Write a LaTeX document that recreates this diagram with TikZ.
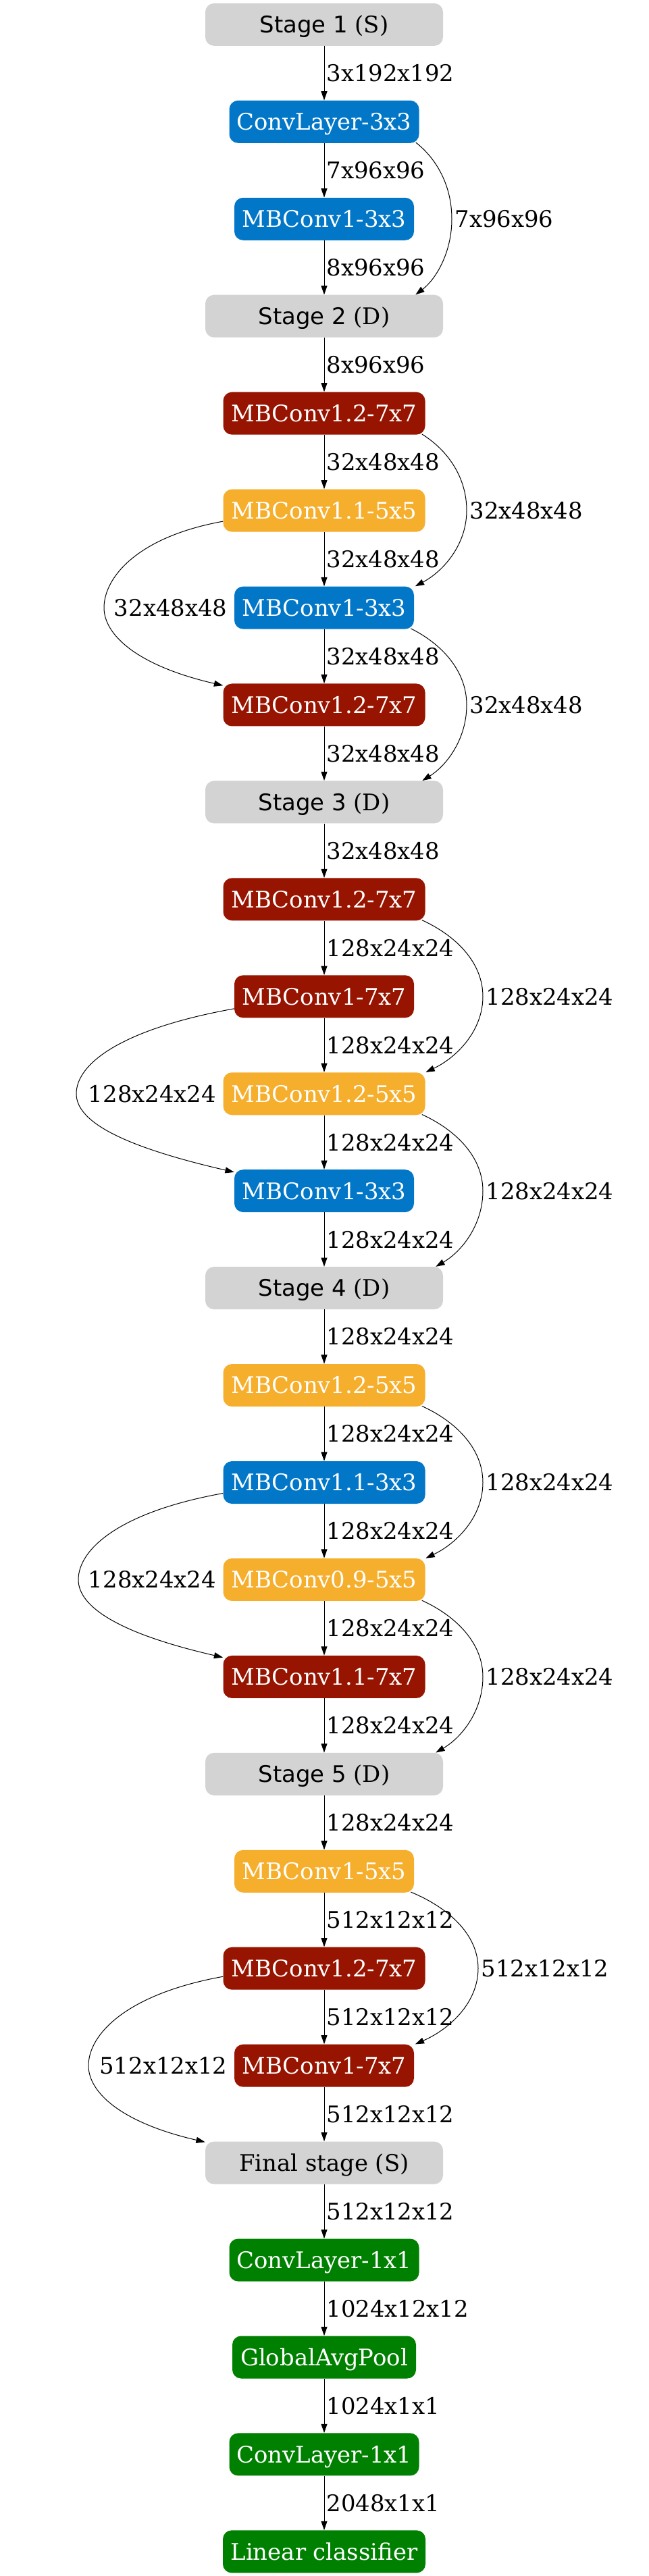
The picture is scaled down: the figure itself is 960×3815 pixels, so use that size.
\documentclass[tikz,border=0pt]{standalone}
\usepackage{fontspec}
\setmainfont{DejaVu Serif}
\newfontfamily\stagesans{DejaVu Sans}
\usetikzlibrary{arrows.meta,calc}
\definecolor{cblue}{HTML}{0277C8}
\definecolor{cred}{HTML}{961400}
\definecolor{corange}{HTML}{F6AE2D}
\definecolor{cgreen}{HTML}{008000}
\definecolor{cgray}{HTML}{D3D3D3}
\newcommand\gfont{\fontsize{25.4pt}{30pt}\selectfont}
\newcommand\stg[2]{{\stagesans #1} #2}
% vertical edge
\newcommand\ve[3]{\draw[edge] (#1.south) -- node[lab,anchor=west,xshift=2.25pt]{#3} (#2.north);}
% right curve: tail, head, xe, ymid, tip x shift, label
\newcommand\rcurve[6]{%
\draw[edge] let \p1=([shift={(-5,-1)}]#1.south east), \p2=(#3,#4), \p3=([xshift=#5*0.75pt]#2.north east) in
 (\p1) .. controls ({\x1+0.55*(\x2-\x1)},{\y1+0.2*(\y2-\y1)}) and (\x2,{\y2-0.45*(\y2-\y1)}) .. (\p2)
 .. controls (\x2,{\y2+0.45*(\y3-\y2)}) and ({\x3+0.55*(\x2-\x3)},{\y3-0.2*(\y3-\y2)}) .. (\p3)
 node[lab,anchor=west] at ([xshift=3pt]\p2) {#6};}
% left curve: tail, head, mid, xe, tail y offset, tip y offset, label
\newcommand\lcurve[7]{%
\draw[edge] let \p1=([yshift=-#5*0.75pt]#1.west), \p2=(#4,0|-#3.center), \p3=([yshift=-#6*0.75pt]#2.north west) in
 (\p1) .. controls ({\x1-0.72*(\x1-\x2)},{\y1-0.13*(\x1-\x2)}) and (\x2,{\y2+0.35*(\y1-\y2)}) .. (\p2)
 .. controls (\x2,{\y2-0.35*(\y2-\y3)}) and ({\x3-0.72*(\x3-\x2)},{\y3+0.166*(\x3-\x2)}) .. (\p3);
\node[lab,anchor=east] at ([xshift=-7.5pt]#3.west) {#7};}
\begin{document}
\begin{tikzpicture}[x=0.75pt,y=-0.75pt,
  box/.style={rectangle, rounded corners=9.75pt, minimum height=47.25pt, inner sep=0pt,
    text height=18.5pt, text depth=0pt, font=\gfont, text=white},
  stage/.style={box, fill=cgray, text=black, minimum width=264pt},
  blue/.style={box, fill=cblue},
  red/.style={box, fill=cred},
  orange/.style={box, fill=corange},
  green/.style={box, fill=cgreen},
  wA/.style={minimum width=210.75pt},  % ConvLayer 281
  wB/.style={minimum width=199.5pt},   % MBConv1-kxk 266
  wC/.style={minimum width=224.25pt},  % MBConvX.Y 299
  wD/.style={minimum width=204pt},     % GlobalAvgPool 272
  wE/.style={minimum width=225pt},     % Linear classifier 300
  lab/.style={inner sep=0pt, text height=18.5pt, text depth=0pt, font=\gfont},
  edge/.style={line width=0.75pt, -{Triangle[length=10pt,width=6.75pt]}}]
\useasboundingbox (0,0) rectangle (960,3815);
\node[stage] (s1) at (480,36.4) {\stg{Stage 1}{(S)}};
\node[blue,wA] (c1) at (480,180.34) {ConvLayer-3x3};
\node[blue,wB] (m2) at (480,324.28) {MBConv1-3x3};
\node[stage] (s2) at (480,468.22) {\stg{Stage 2}{(D)}};
\node[red,wC] (m4) at (480,612.16) {MBConv1.2-7x7};
\node[orange,wC] (m5) at (480,756.10) {MBConv1.1-5x5};
\node[blue,wB] (m6) at (480,900.04) {MBConv1-3x3};
\node[red,wC] (m7) at (480,1043.98) {MBConv1.2-7x7};
\node[stage] (s3) at (480,1187.92) {\stg{Stage 3}{(D)}};
\node[red,wC] (m9) at (480,1331.86) {MBConv1.2-7x7};
\node[red,wB] (m10) at (480,1475.80) {MBConv1-7x7};
\node[orange,wC] (m11) at (480,1619.74) {MBConv1.2-5x5};
\node[blue,wB] (m12) at (480,1763.68) {MBConv1-3x3};
\node[stage] (s4) at (480,1907.62) {\stg{Stage 4}{(D)}};
\node[orange,wC] (m14) at (480,2051.56) {MBConv1.2-5x5};
\node[blue,wC] (m15) at (480,2195.50) {MBConv1.1-3x3};
\node[orange,wC] (m16) at (480,2339.44) {MBConv0.9-5x5};
\node[red,wC] (m17) at (480,2483.38) {MBConv1.1-7x7};
\node[stage] (s5) at (480,2627.32) {\stg{Stage 5}{(D)}};
\node[orange,wB] (m19) at (480,2771.26) {MBConv1-5x5};
\node[red,wC] (m20) at (480,2915.20) {MBConv1.2-7x7};
\node[red,wB] (m21) at (480,3059.14) {MBConv1-7x7};
\node[stage] (fs) at (480,3203.08) {Final stage (S)};
\node[green,wA] (g1) at (480,3347.02) {ConvLayer-1x1};
\node[green,wD] (g2) at (480,3490.96) {GlobalAvgPool};
\node[green,wA] (g3) at (480,3634.90) {ConvLayer-1x1};
\node[green,wE] (g4) at (480,3778.84) {Linear classifier};
\ve{s1}{c1}{3x192x192}
\ve{c1}{m2}{7x96x96}
\ve{m2}{s2}{8x96x96}
\ve{s2}{m4}{8x96x96}
\ve{m4}{m5}{32x48x48}
\ve{m5}{m6}{32x48x48}
\ve{m6}{m7}{32x48x48}
\ve{m7}{s3}{32x48x48}
\ve{s3}{m9}{32x48x48}
\ve{m9}{m10}{128x24x24}
\ve{m10}{m11}{128x24x24}
\ve{m11}{m12}{128x24x24}
\ve{m12}{s4}{128x24x24}
\ve{s4}{m14}{128x24x24}
\ve{m14}{m15}{128x24x24}
\ve{m15}{m16}{128x24x24}
\ve{m16}{m17}{128x24x24}
\ve{m17}{s5}{128x24x24}
\ve{s5}{m19}{128x24x24}
\ve{m19}{m20}{512x12x12}
\ve{m20}{m21}{512x12x12}
\ve{m21}{fs}{512x12x12}
\ve{fs}{g1}{512x12x12}
\ve{g1}{g2}{1024x12x12}
\ve{g2}{g3}{1024x1x1}
\ve{g3}{g4}{2048x1x1}
\rcurve{c1}{s2}{669}{324.28}{-41}{7x96x96}
\rcurve{m4}{m6}{691}{756.10}{1.5}{32x48x48}
\rcurve{m6}{s3}{691}{1043.98}{-31}{32x48x48}
\rcurve{m9}{m11}{715}{1475.80}{0.7}{128x24x24}
\rcurve{m11}{s4}{715}{1763.68}{-11}{128x24x24}
\rcurve{m14}{m16}{715}{2195.50}{0.7}{128x24x24}
\rcurve{m16}{s5}{715}{2483.38}{-11}{128x24x24}
\rcurve{m19}{m21}{708}{2915.20}{1.5}{512x12x12}
\lcurve{m5}{m7}{m6}{154}{16}{3}{32x48x48}
\lcurve{m10}{m12}{m11}{113}{18}{4}{128x24x24}
\lcurve{m15}{m17}{m16}{116}{16}{3}{128x24x24}
\lcurve{m20}{fs}{m21}{131}{12}{1}{512x12x12}
\end{tikzpicture}
\end{document}
